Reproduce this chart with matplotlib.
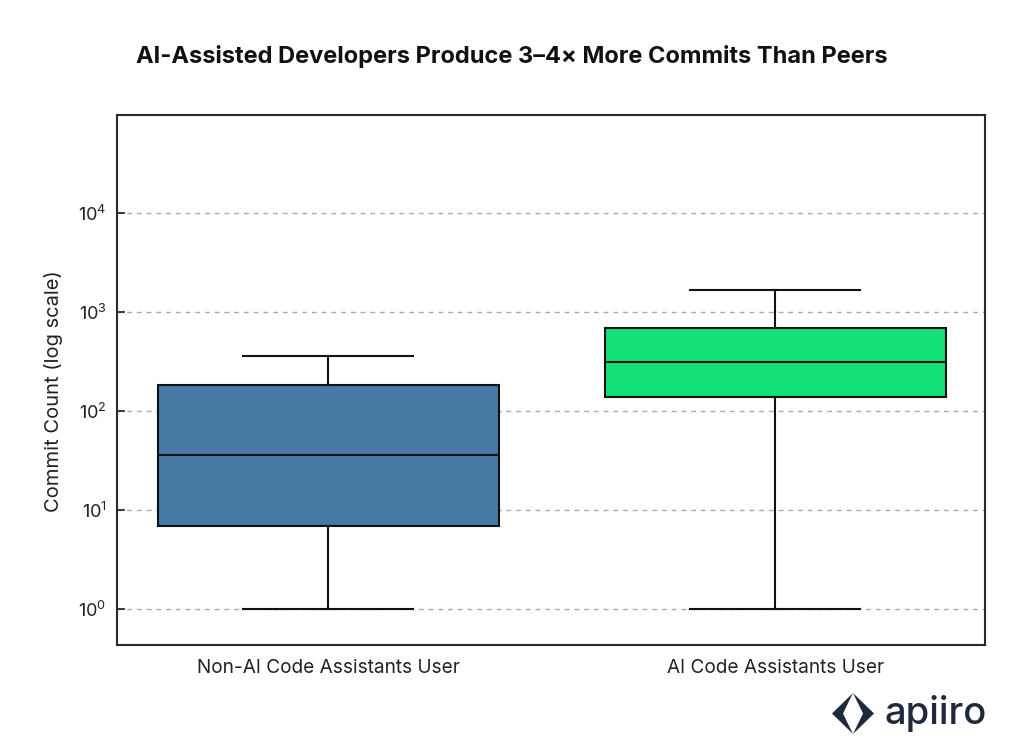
import matplotlib
matplotlib.use("Agg")
import matplotlib.pyplot as plt
from matplotlib.patches import Polygon

categories = ["Non-AI Code Assistants User", "AI Code Assistants User"]
whisker_low = [1, 1]
q1 = [6.9, 137]
median = [36, 310]
q3 = [183, 690]
whisker_high = [360, 1670]
box_colors = ["#4679A4", "#12E079"]
tick_values = [1, 10, 100, 1000, 10000]

plt.rcParams["font.family"] = ["Inter", "DejaVu Sans"]
plt.rcParams["mathtext.fontset"] = "custom"
plt.rcParams["mathtext.rm"] = "Inter"
plt.rcParams["mathtext.default"] = "rm"

W, H = 1024, 749
fig = plt.figure(figsize=(W / 100, H / 100), dpi=100)
ax = fig.add_axes([117 / W, 1 - 645 / H, (985 - 117) / W, (645 - 115) / H])

stats = [dict(label=c, whislo=l, q1=a, med=m, q3=b, whishi=h, fliers=[])
         for c, l, a, m, b, h in zip(categories, whisker_low, q1, median, q3, whisker_high)]
line = dict(color="#111111", linewidth=1.5)
parts = ax.bxp(stats, positions=[0, 1], widths=0.763, capwidths=0.38, patch_artist=True,
               showfliers=False, boxprops=dict(edgecolor="#111111", linewidth=1.5),
               medianprops=line, whiskerprops=line, capprops=line, zorder=3)
for patch, color in zip(parts["boxes"], box_colors):
    patch.set_facecolor(color)

ax.set_yscale("log")
ax.set_ylim(10 ** -0.364, 10 ** 4.985)
ax.set_xlim(-0.473, 1.469)
ax.set_yticks(tick_values)
ax.minorticks_off()
ax.yaxis.grid(True, linestyle=(0, (3.5, 3.5)), color="#AAAAAA", linewidth=1, zorder=0)
ax.set_axisbelow(True)
ax.tick_params(axis="y", labelsize=13, length=6, width=1.2, direction="in", pad=7.5, colors="#222222")
ax.tick_params(axis="x", labelsize=13.7, length=0, pad=10, colors="#222222")
ax.set_ylabel("Commit Count (log scale)", fontsize=14.5, color="#222222", labelpad=11, y=0.479)
for s in ax.spines.values():
    s.set_linewidth(1.5)
    s.set_color("#2A2A2A")

fig.text(512 / W, 1 - 56.5 / H, "AI-Assisted Developers Produce 3–4× More Commits Than Peers",
         ha="center", va="center", fontsize=17, fontweight="bold", color="#111111")

def fp(pts):
    return [(x / W, 1 - y / H) for x, y in pts]

logo = "#1E2A3C"
fig.add_artist(Polygon(fp([(853, 693), (832, 713.5), (853, 734), (843, 713.5)]),
                       closed=True, transform=fig.transFigure, facecolor=logo, edgecolor="none"))
fig.add_artist(Polygon(fp([(853, 693), (874, 713.5), (853, 734), (863, 713.5)]),
                       closed=True, transform=fig.transFigure, facecolor=logo, edgecolor="none"))
fig.text(885 / W, 1 - 714 / H, "apiiro", ha="left", va="center", fontsize=27.5,
         fontweight="medium", color=logo)

fig.savefig("out.png", dpi=100, facecolor="white")
